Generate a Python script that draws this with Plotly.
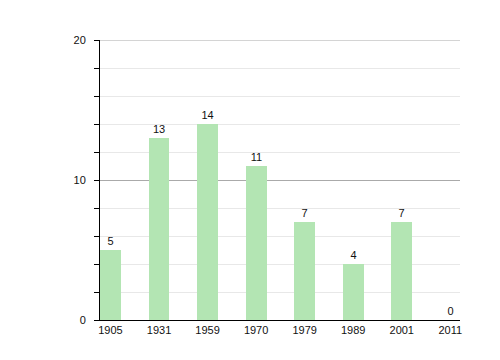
import plotly.graph_objects as go

years = ["1905", "1931", "1959", "1970", "1979", "1989", "2001", "2011"]
values = [5, 13, 14, 11, 7, 4, 7, 0]
y_max = 20

fig = go.Figure()
fig.add_trace(go.Bar(
    x=list(range(len(years))), y=values,
    width=0.43,
    marker=dict(color="#b3e5b3", line=dict(width=0)),
    text=[str(v) for v in values], textposition="outside",
    textfont=dict(size=11, color="#111", family="Liberation Sans, Arial, sans-serif"),
    cliponaxis=False,
))

fig.add_shape(type="line", xref="paper", yref="y", x0=0, x1=1, y0=y_max, y1=y_max,
              line=dict(color="#aaaaaa", width=1), layer="below")

fig.update_layout(
    width=500, height=360,
    margin=dict(l=92, r=48, t=32, b=48),
    paper_bgcolor="white", plot_bgcolor="white",
    showlegend=False,
    font=dict(family="Liberation Sans, Arial, sans-serif", size=11, color="#111"),
    bargap=0,
)
fig.update_xaxes(
    range=[-0.216, 7.2],
    tickmode="array", tickvals=list(range(len(years))), ticktext=years,
    showgrid=False, showline=True, linecolor="black", linewidth=1,
    ticks="", ticklen=0, zeroline=False,
)
fig.update_yaxes(
    range=[0, y_max], tickmode="linear", tick0=0, dtick=10,
    showgrid=True, gridcolor="#aaaaaa", gridwidth=1,
    showline=True, linecolor="black", linewidth=1,
    ticks="outside", ticklen=5, tickcolor="black",
    ticklabelstandoff=6,
    zeroline=False,
    minor=dict(dtick=2, ticks="outside", ticklen=5, tickcolor="black",
               showgrid=True, gridcolor="#e8e8e8", gridwidth=1),
)

fig.write_html("out.html")
